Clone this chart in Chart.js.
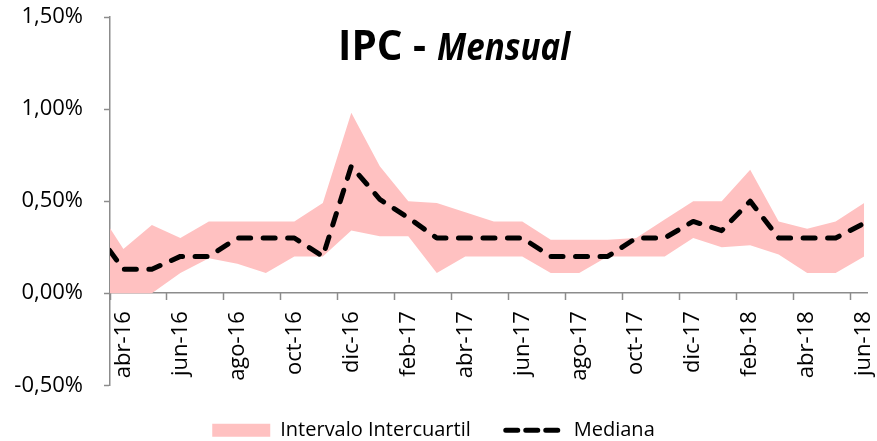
<!DOCTYPE html>
<html>
<head>
<meta charset="utf-8">
<script src="https://cdn.jsdelivr.net/npm/chart.js@4/dist/chart.umd.min.js"></script>
<style>
  html, body { margin: 0; padding: 0; background: #fff; }
  #wrap { width: 877px; height: 441px; }
</style>
</head>
<body>
<div id="wrap"><canvas id="c" width="877" height="441"></canvas></div>
<script>
// ---- data (values in %) ----
const months = ['mar-16','abr-16','may-16','jun-16','jul-16','ago-16','sep-16','oct-16','nov-16','dic-16',
                'ene-17','feb-17','mar-17','abr-17','may-17','jun-17','jul-17','ago-17','sep-17','oct-17','nov-17','dic-17',
                'ene-18','feb-18','mar-18','abr-18','may-18','jun-18'];
const mediana    = [0.34,0.13,0.13,0.20,0.20,0.30,0.30,0.30,0.20,0.69,0.51,0.41,0.30,0.30,0.30,0.30,0.20,0.20,0.20,0.30,0.30,0.39,0.34,0.50,0.30,0.30,0.30,0.38];
const cuartilSup = [0.48,0.24,0.37,0.30,0.39,0.39,0.39,0.39,0.49,0.98,0.69,0.50,0.49,0.44,0.39,0.39,0.29,0.29,0.29,0.30,0.40,0.50,0.50,0.67,0.39,0.35,0.39,0.49];
const cuartilInf = [0.00,0.00,0.00,0.11,0.19,0.16,0.11,0.20,0.20,0.34,0.31,0.31,0.11,0.20,0.20,0.20,0.11,0.11,0.20,0.20,0.20,0.30,0.25,0.26,0.21,0.11,0.11,0.20];
const xTickLabels = ['abr-16','jun-16','ago-16','oct-16','dic-16','feb-17','abr-17','jun-17','ago-17','oct-17','dic-17','feb-18','abr-18','jun-18'];
const yTickValues = [-0.5, 0, 0.5, 1, 1.5];
const seriesNames = ['Intervalo Intercuartil', 'Mediana'];
const titleMain = 'IPC -';
const titleSub = 'Mensual';

// ---- layout constants ----
const FONT = '"Open Sans", "Liberation Sans", sans-serif';
const X_MIN = -0.47, X_MAX = 26.1;
const BAND = '#ffc1c1';
const AXIS = '#8c8c8c';

const toXY = arr => arr.map((v, i) => ({ x: i - 1, y: v }));
const labelPositions = xTickLabels.map(l => months.indexOf(l) - 1);
const fmtPct = v => v.toFixed(2).replace('.', ',') + '%';
const zeroPad = s => { s.paddingLeft = 0; s.paddingRight = 0; s.paddingTop = 0; s.paddingBottom = 0; };

const titlePlugin = {
  id: 'mixedTitle',
  afterDraw(chart) {
    const ctx = chart.ctx;
    ctx.save();
    ctx.fillStyle = '#000';
    ctx.textAlign = 'left';
    ctx.textBaseline = 'alphabetic';
    ctx.font = 'bold 42px ' + FONT;
    let w = ctx.measureText(titleMain).width;
    ctx.translate(338, 60);
    ctx.scale(88 / w, 1);
    ctx.fillText(titleMain, 0, 0);
    ctx.restore();
    ctx.save();
    ctx.fillStyle = '#000';
    ctx.textAlign = 'left';
    ctx.textBaseline = 'alphabetic';
    ctx.font = 'italic bold 37px ' + FONT;
    w = ctx.measureText(titleSub).width;
    ctx.translate(437, 60);
    ctx.scale(133 / w, 1);
    ctx.fillText(titleSub, 0, 0);
    ctx.restore();
  }
};

new Chart(document.getElementById('c'), {
  type: 'line',
  data: {
    datasets: [
      { label: seriesNames[0], data: toXY(cuartilSup), fill: '+1', backgroundColor: BAND,
        borderWidth: 0, pointRadius: 0, order: 1, clip: 0 },
      { label: 'inf', data: toXY(cuartilInf), fill: false, borderWidth: 0, pointRadius: 0, order: 2, clip: 0 },
      { label: seriesNames[1], data: toXY(mediana), fill: false, borderColor: '#000', borderWidth: 5,
        borderDash: [12, 12.5], borderCapStyle: 'round', borderJoinStyle: 'round', pointRadius: 0, order: 0, clip: 0 }
    ]
  },
  options: {
    responsive: false,
    devicePixelRatio: 1,
    animation: false,
    layout: { padding: { left: 0, right: 10, top: 17, bottom: -9.3 } },
    plugins: {
      title: { display: false },
      tooltip: { enabled: false },
      legend: {
        display: true,
        position: 'bottom',
        labels: {
          font: { family: FONT, size: 20 },
          color: '#000',
          usePointStyle: true,
          pointStyleWidth: 58,
          boxHeight: 13,
          padding: 35,
          generateLabels: () => [
            { text: seriesNames[0], fillStyle: BAND, strokeStyle: BAND, lineWidth: 0, pointStyle: 'rect', datasetIndex: 0, hidden: false, fontColor: '#000' },
            { text: seriesNames[1], fillStyle: '#000', strokeStyle: '#000', lineWidth: 5, lineDash: [12, 8], lineCap: 'round', pointStyle: 'line', datasetIndex: 2, hidden: false, fontColor: '#000' }
          ]
        }
      }
    },
    scales: {
      x: {
        type: 'linear',
        position: { y: 0 },
        min: X_MIN, max: X_MAX,
        afterBuildTicks: s => { s.ticks = labelPositions.map(v => ({ value: v })); },
        afterFit: s => { zeroPad(s); s.height = 0; },
        ticks: {
          autoSkip: false, minRotation: 90, maxRotation: 90, padding: 18,
          font: { family: FONT, size: 22 }, color: '#000',
          callback: v => months[Math.round(v) + 1]
        },
        grid: { display: true, drawOnChartArea: false, drawTicks: false },
        border: { display: true, color: AXIS, width: 1.5 }
      },
      x2: {
        type: 'linear',
        axis: 'x',
        position: { y: 0 },
        min: X_MIN, max: X_MAX,
        afterBuildTicks: s => { s.ticks = labelPositions.map(v => ({ value: v + X_MIN })); },
        afterFit: s => { zeroPad(s); s.height = 0; },
        ticks: { display: false, autoSkip: false },
        grid: { display: true, drawOnChartArea: false, drawTicks: true, tickLength: 7, tickColor: AXIS, tickWidth: 1.5 },
        border: { display: false }
      },
      y: {
        min: -0.5, max: 1.5,
        afterBuildTicks: s => { s.ticks = yTickValues.map(v => ({ value: v })); },
        afterFit: s => { s.width = 110; s.paddingTop = 0; s.paddingBottom = 0; },
        ticks: { padding: 21, font: { family: FONT, size: 22 }, color: '#000', callback: v => fmtPct(v) },
        grid: { display: true, drawOnChartArea: false, drawTicks: true, tickLength: 6, tickColor: AXIS, tickWidth: 1.5 },
        border: { display: true, color: AXIS, width: 1.5 }
      }
    }
  },
  plugins: [titlePlugin]
});
</script>
</body>
</html>
